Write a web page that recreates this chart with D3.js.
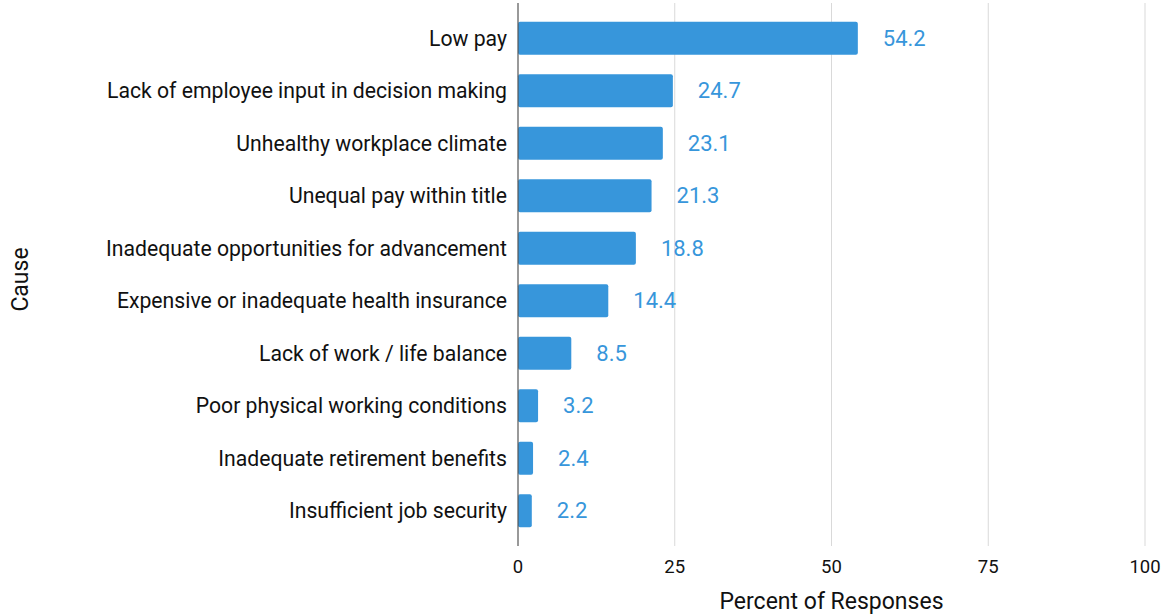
<!DOCTYPE html>
<html lang="en">
<head>
    <meta charset="UTF-8">
    <title>Causes</title>
    <script src="https://d3js.org/d3.v7.min.js"></script>
    <style>
        body { margin: 0; background: #fff; }
        text { font-family: Roboto, "Noto Sans", sans-serif; }
    </style>
</head>
<body>
    <svg width="1167" height="615"></svg>

    <script>
        // Chart data
        const causes = [
            "Low pay",
            "Lack of employee input in decision making",
            "Unhealthy workplace climate",
            "Unequal pay within title",
            "Inadequate opportunities for advancement",
            "Expensive or inadequate health insurance",
            "Lack of work / life balance",
            "Poor physical working conditions",
            "Inadequate retirement benefits",
            "Insufficient job security"
        ];
        const percents = [54.2, 24.7, 23.1, 21.3, 18.8, 14.4, 8.5, 3.2, 2.4, 2.2];
        const xTicks = [0, 25, 50, 75, 100];

        const svg = d3.select("svg");
        const barColor = "#3796db";

        const x = d3.scaleLinear().domain([0, 100]).range([518, 1145]);
        const y = d3.scaleBand().domain(causes).range([12, 537]).paddingInner(0.37).paddingOuter(0.185);

        const gridTop = 3, gridBottom = 546;

        // Gridlines
        svg.append("g")
            .selectAll("line")
            .data(xTicks.filter(d => d > 0))
            .join("line")
            .attr("x1", d => x(d)).attr("x2", d => x(d))
            .attr("y1", gridTop).attr("y2", gridBottom)
            .attr("stroke", "#d9d9d9")
            .attr("stroke-width", 1);

        // Bars
        const data = causes.map((c, i) => ({ cause: c, value: percents[i] }));
        svg.append("g")
            .selectAll("rect")
            .data(data)
            .join("rect")
            .attr("x", x(0))
            .attr("y", d => y(d.cause))
            .attr("width", d => x(d.value) - x(0))
            .attr("height", y.bandwidth())
            .attr("rx", 2)
            .attr("fill", barColor);

        // Value labels
        svg.append("g")
            .selectAll("text")
            .data(data)
            .join("text")
            .attr("x", d => x(d.value) + 25)
            .attr("y", d => y(d.cause) + y.bandwidth() / 2)
            .attr("dy", "0.35em")
            .attr("font-size", 22)
            .attr("fill", barColor)
            .text(d => d.value.toFixed(1));

        // Zero axis line
        svg.append("line")
            .attr("x1", x(0)).attr("x2", x(0))
            .attr("y1", gridTop).attr("y2", gridBottom)
            .attr("stroke", "#555")
            .attr("stroke-width", 1.2);

        // Category labels
        svg.append("g")
            .selectAll("text")
            .data(causes)
            .join("text")
            .attr("x", x(0) - 11)
            .attr("y", d => y(d) + y.bandwidth() / 2)
            .attr("dy", "0.35em")
            .attr("text-anchor", "end")
            .attr("font-size", 21.2)
            .attr("fill", "#111")
            .text(d => d);

        // X tick labels
        svg.append("g")
            .selectAll("text")
            .data(xTicks)
            .join("text")
            .attr("x", d => x(d))
            .attr("y", 567)
            .attr("dy", "0.35em")
            .attr("text-anchor", "middle")
            .attr("font-size", 18.5)
            .attr("fill", "#111")
            .text(d => d);

        // Axis titles
        svg.append("text")
            .attr("x", (x(0) + x(100)) / 2)
            .attr("y", 601)
            .attr("dy", "0.35em")
            .attr("text-anchor", "middle")
            .attr("font-size", 23)
            .attr("fill", "#111")
            .text("Percent of Responses");

        svg.append("text")
            .attr("transform", `translate(20,${(gridTop + gridBottom) / 2 + 5}) rotate(-90)`)
            .attr("dy", "0.35em")
            .attr("text-anchor", "middle")
            .attr("font-size", 23)
            .attr("fill", "#111")
            .text("Cause");
    </script>
</body>
</html>
